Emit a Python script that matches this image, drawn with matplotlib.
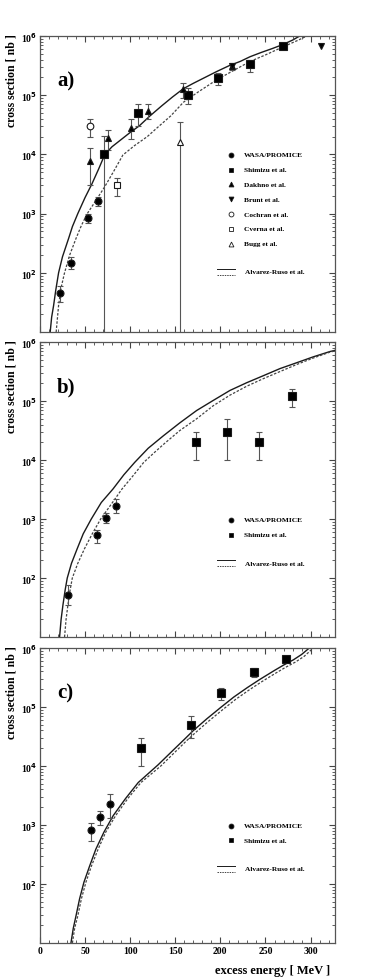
import matplotlib
matplotlib.use("Agg")
import matplotlib.pyplot as plt
import numpy as np
from matplotlib.ticker import MultipleLocator, LogLocator, FixedLocator, NullFormatter

plt.rcParams['font.family'] = ['Liberation Serif', 'DejaVu Serif']
plt.rcParams['font.weight'] = 'bold'

# ---- panel a) data (excess energy MeV, cross section nb, lower, upper)
a_wasa_x = [22.2, 34.4, 53.6, 63.9]
a_wasa_y = [45, 146, 845, 1620]
a_wasa_lo = [32, 115, 700, 1350]
a_wasa_hi = [60, 186, 1000, 1900]

a_shim_x = [71.3, 108.3, 164.4, 197.7, 232.8, 269.8]
a_shim_y = [1e4, 5e4, 1e5, 1.97e5, 3.3e5, 6.8e5]
a_shim_lo = [0.1, 3e4, 7e4, 1.5e5, 2.5e5, 6.2e5]
a_shim_hi = [2.05e4, 7e4, 1.3e5, 2.4e5, 4e5, 7.4e5]

a_dakh_x = [55.4, 75.7, 100.5, 119.4, 158.2, 212.5]
a_dakh_y = [7.7e3, 1.9e4, 2.8e4, 5.5e4, 1.26e5, 3.1e5]
a_dakh_lo = [3e3, 1.2e4, 1.8e4, 4e4, 9e4, 2.7e5]
a_dakh_hi = [1.3e4, 2.6e4, 4e4, 7e4, 1.6e5, 3.5e5]

a_brunt_x = [212.5, 311.5]
a_brunt_y = [3.1e5, 6.8e5]

a_coch_x, a_coch_y, a_coch_lo, a_coch_hi = [55.4], [3e4], [2e4], [4e4]
a_cver_x, a_cver_y, a_cver_lo, a_cver_hi = [85.7], [3e3], [2e3], [4e3]
a_bugg_x, a_bugg_y, a_bugg_lo, a_bugg_hi = [155.2], [1.6e4], [0.1], [3.5e4]

# Alvarez-Ruso curves as log10(nb)
a_solid_x = [11.4, 13, 15.2, 17.5, 20.7, 25, 31.8, 36, 42, 50, 57.6, 65, 72, 80, 90, 100,
             110, 122, 135, 147, 159, 170, 183, 196, 210, 222, 233, 245, 258, 270, 280, 288]
a_solid_log = [1.0, 1.25, 1.45, 1.7, 2.0, 2.27, 2.58, 2.78, 3.0, 3.27, 3.5, 3.75, 4.0, 4.13,
               4.25, 4.37, 4.48, 4.65, 4.82, 4.97, 5.11, 5.2, 5.3, 5.4, 5.5, 5.57, 5.65, 5.72,
               5.79, 5.86, 5.93, 6.0]
a_dash_x = [18, 20.7, 23.5, 27.3, 33, 40, 46, 52.5, 62, 71.7, 82, 92, 105, 119, 130, 145,
            159, 175, 196, 215, 233, 250, 270, 285, 296]
a_dash_log = [1.0, 1.45, 1.75, 2.0, 2.3, 2.58, 2.8, 3.0, 3.22, 3.45, 3.72, 3.99, 4.15, 4.3,
              4.45, 4.65, 4.88, 5.05, 5.26, 5.42, 5.57, 5.68, 5.82, 5.92, 6.0]

# ---- panel b)
b_wasa_x = [30.7, 62.8, 73.2, 83.9]
b_wasa_y = [51, 527, 1030, 1690]
b_wasa_lo = [35, 400, 850, 1250]
b_wasa_hi = [75, 650, 1250, 2150]

b_shim_x = [173, 207, 242.4, 279]
b_shim_y = [2e4, 3e4, 2e4, 1.2e5]
b_shim_lo = [1e4, 1e4, 1e4, 8e4]
b_shim_hi = [3e4, 5e4, 3e4, 1.6e5]

b_solid_x = [21.8, 23.5, 25.5, 28, 30.3, 35, 41.4, 48, 56.9, 68, 81, 93, 105, 120, 136.7,
             155, 173.7, 192, 210.6, 229, 247.6, 266, 284.6, 303, 321.5, 330]
b_solid_log = [1.0, 1.3, 1.54, 1.8, 2.0, 2.25, 2.5, 2.75, 3.0, 3.28, 3.51, 3.75, 3.96, 4.2,
               4.41, 4.63, 4.84, 5.01, 5.18, 5.31, 5.43, 5.55, 5.65, 5.75, 5.84, 5.87]
b_dash_x = [27.3, 29, 31, 33.5, 35.9, 42, 49.5, 58, 67.3, 79, 91, 103, 115, 127, 138, 155,
            173.7, 192, 210.6, 229, 247.6, 266, 284.6, 303, 321.5, 330]
b_dash_log = [1.0, 1.3, 1.54, 1.8, 2.0, 2.25, 2.5, 2.75, 3.0, 3.25, 3.51, 3.73, 3.96, 4.13,
              4.28, 4.5, 4.7, 4.92, 5.1, 5.25, 5.38, 5.5, 5.62, 5.73, 5.83, 5.86]

# ---- panel c)
c_wasa_x = [56.5, 66.5, 77.6]
c_wasa_y = [826, 1360, 2280]
c_wasa_lo = [530, 1000, 1300]
c_wasa_hi = [1100, 1700, 3300]

c_shim_x = [112, 167, 201, 237.3, 272.4]
c_shim_y = [2e4, 5e4, 1.72e5, 3.86e5, 6.6e5]
c_shim_lo = [1e4, 3e4, 1.3e5, 3.2e5, 5.9e5]
c_shim_hi = [3e4, 7e4, 2.1e5, 4.5e5, 7.3e5]

c_solid_x = [34.4, 37, 40, 44, 48.8, 55, 62, 71, 81.3, 95, 109, 120, 131, 147.8, 160, 170,
             185, 201, 215, 230, 244, 260, 270, 281, 290, 298.6]
c_solid_log = [1.0, 1.25, 1.46, 1.75, 2.03, 2.3, 2.59, 2.88, 3.16, 3.45, 3.72, 3.87, 4.02,
               4.27, 4.45, 4.6, 4.8, 5.0, 5.17, 5.33, 5.47, 5.62, 5.71, 5.8, 5.89, 6.0]
c_dash_x = [36, 38.5, 42, 46, 51, 57, 64.5, 73, 84, 97.5, 112, 123, 134, 150, 162, 172, 187,
            203, 217, 232, 246, 262, 272, 283, 293, 303]
c_dash_log = [1.0, 1.25, 1.46, 1.75, 2.03, 2.3, 2.59, 2.88, 3.16, 3.45, 3.72, 3.86, 4.0,
              4.24, 4.42, 4.56, 4.76, 4.96, 5.13, 5.29, 5.43, 5.58, 5.67, 5.76, 5.86, 6.0]

x_ticks = [0, 50, 100, 150, 200, 250, 300]
y_ticks = [1e2, 1e3, 1e4, 1e5, 1e6]
y_ticklabels = ['10$^2$', '10$^3$', '10$^4$', '10$^5$', '10$^6$']

ink = '#1a1a1a'
ebar = '#555555'


def errs(y, lo, hi):
    return [[v - l for v, l in zip(y, lo)], [h - v for v, h in zip(y, hi)]]


def points(ax, x, y, lo, hi, marker, ms, mfc='black'):
    if lo is not None:
        ax.errorbar(x, y, yerr=errs(y, lo, hi), fmt='none', ecolor=ebar,
                    elinewidth=0.8, capsize=2, capthick=0.8, zorder=2)
    ax.plot(x, y, linestyle='none', marker=marker, ms=ms, mfc=mfc,
            mec=ink, mew=0.8, zorder=3)


def curves(ax, sx, slog, dx, dlog):
    ax.plot(sx, np.power(10.0, slog), color=ink, lw=1.0, zorder=1)
    ax.plot(dx, np.power(10.0, dlog), color='#444444', lw=0.9, dashes=(2, 1.3), zorder=1)


def legend(ax, entries, y0, yline):
    y = y0
    for marker, mfc, label in entries:
        ax.plot([0.647], [y], marker=marker, ms=3.5, mfc=mfc, mec=ink, mew=0.6,
                transform=ax.transAxes, clip_on=False)
        ax.text(0.692, y, label, fontsize=5.3, va='center', transform=ax.transAxes)
        y -= 0.0502
    ax.plot([0.60, 0.66], [yline + 0.009, yline + 0.009], color=ink, lw=0.7,
            transform=ax.transAxes)
    ax.plot([0.60, 0.66], [yline - 0.009, yline - 0.009], color='#444444', lw=0.7,
            dashes=(1.5, 1), transform=ax.transAxes)
    ax.text(0.695, yline, 'Alvarez-Ruso et al.', fontsize=5.3, va='center',
            transform=ax.transAxes)


def style(ax, tag, show_x):
    ax.set_yscale('log')
    ax.set_xlim(0, 327)
    ax.set_ylim(10, 1e6)
    ax.xaxis.set_major_locator(FixedLocator(x_ticks))
    ax.xaxis.set_minor_locator(MultipleLocator(10))
    ax.yaxis.set_major_locator(FixedLocator(y_ticks))
    ax.set_yticklabels(y_ticklabels)
    ax.yaxis.set_minor_locator(LogLocator(base=10, subs=range(2, 10)))
    ax.yaxis.set_minor_formatter(NullFormatter())
    ax.tick_params(which='both', direction='in', top=True, right=True,
                   colors='#444444', labelcolor='black', labelsize=7, pad=2)
    ax.tick_params(which='major', length=4, width=0.8)
    ax.tick_params(which='minor', length=2, width=0.6)
    if not show_x:
        ax.set_xticklabels([])
    for s in ax.spines.values():
        s.set_color('#555555')
        s.set_linewidth(0.9)
    ax.text(-0.097, 1.01, 'cross section [ nb ]', rotation=90, ha='center', va='top',
            fontsize=8.5, transform=ax.transAxes)
    ax.text(0.058, 0.85, tag, fontsize=15, va='center', ha='left', transform=ax.transAxes)


fig = plt.figure(figsize=(3.73, 9.78), dpi=100)
ax_a = fig.add_axes([0.107, 0.6595, 0.791, 0.3027])
ax_b = fig.add_axes([0.107, 0.3476, 0.791, 0.3016])
ax_c = fig.add_axes([0.107, 0.0348, 0.791, 0.3016])

# a)
curves(ax_a, a_solid_x, a_solid_log, a_dash_x, a_dash_log)
points(ax_a, a_wasa_x, a_wasa_y, a_wasa_lo, a_wasa_hi, 'o', 5)
points(ax_a, a_shim_x, a_shim_y, a_shim_lo, a_shim_hi, 's', 5.5)
points(ax_a, a_dakh_x, a_dakh_y, a_dakh_lo, a_dakh_hi, '^', 4.5)
points(ax_a, a_brunt_x, a_brunt_y, None, None, 'v', 4.5)
points(ax_a, a_coch_x, a_coch_y, a_coch_lo, a_coch_hi, 'o', 4.8, 'white')
points(ax_a, a_cver_x, a_cver_y, a_cver_lo, a_cver_hi, 's', 4.8, 'white')
points(ax_a, a_bugg_x, a_bugg_y, a_bugg_lo, a_bugg_hi, '^', 4.8, 'white')
style(ax_a, 'a)', False)
legend(ax_a, [('o', 'black', 'WASA/PROMICE'), ('s', 'black', 'Shimizu et al.'),
              ('^', 'black', 'Dakhno et al.'), ('v', 'black', 'Brunt et al.'),
              ('o', 'white', 'Cochran et al.'), ('s', 'white', 'Cverna et al.'),
              ('^', 'white', 'Bugg et al.')], 0.599, 0.203)

# b)
curves(ax_b, b_solid_x, b_solid_log, b_dash_x, b_dash_log)
points(ax_b, b_wasa_x, b_wasa_y, b_wasa_lo, b_wasa_hi, 'o', 5)
points(ax_b, b_shim_x, b_shim_y, b_shim_lo, b_shim_hi, 's', 5.5)
style(ax_b, 'b)', False)
legend(ax_b, [('o', 'black', 'WASA/PROMICE'), ('s', 'black', 'Shimizu et al.')], 0.397, 0.251)

# c)
curves(ax_c, c_solid_x, c_solid_log, c_dash_x, c_dash_log)
points(ax_c, c_wasa_x, c_wasa_y, c_wasa_lo, c_wasa_hi, 'o', 5)
points(ax_c, c_shim_x, c_shim_y, c_shim_lo, c_shim_hi, 's', 5.5)
style(ax_c, 'c)', True)
legend(ax_c, [('o', 'black', 'WASA/PROMICE'), ('s', 'black', 'Shimizu et al.')], 0.398, 0.251)
ax_c.text(0.983, -0.09, 'excess energy [ MeV ]', ha='right', va='center', fontsize=9,
          transform=ax_c.transAxes)

fig.savefig('out.png', dpi=100)
